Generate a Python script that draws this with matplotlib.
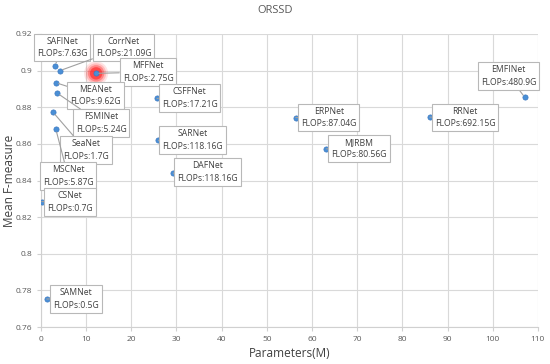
import matplotlib
matplotlib.use("Agg")
import matplotlib.pyplot as plt
import numpy as np

plt.rcParams['font.family'] = ['Open Sans', 'DejaVu Sans']

# Modelos: nome, parametros (M), F-measure, FLOPs
names = ["SAFINet", "CorrNet", "MFFNet", "MEANet", "FSMINet", "SeaNet", "MSCNet",
         "CSNet", "SAMNet", "CSFFNet", "SARNet", "DAFNet", "ERPNet", "MJRBM",
         "RRNet", "EMFINet"]
params = [3.1, 4.2, 12.2, 3.3, 3.6, 2.7, 3.3, 0.15, 1.3, 25.7, 26.0, 29.3,
          56.4, 63.2, 86.1, 107.1]
fmeasure = [0.9027, 0.9000, 0.8985, 0.8934, 0.8877, 0.8772, 0.8679, 0.8285,
            0.7753, 0.8848, 0.8619, 0.8440, 0.8744, 0.8573, 0.8746, 0.8854]
flops = ["7.63G", "21.09G", "2.75G", "9.62G", "5.24G", "1.7G", "5.87G", "0.7G",
         "0.5G", "17.21G", "118.16G", "118.16G", "87.04G", "80.56G", "692.15G",
         "480.9G"]
# posicao dos rotulos (centro da caixa)
label_x = [4.7, 18.3, 23.7, 12.1, 13.3, 9.9, 6.0, 6.4, 7.7, 32.9, 33.5, 36.9,
           63.7, 70.4, 93.9, 103.5]
label_y = [0.9126, 0.9126, 0.8992, 0.8864, 0.8713, 0.8566, 0.8424, 0.8284,
           0.7754, 0.8850, 0.8620, 0.8446, 0.8743, 0.8575, 0.8743, 0.8972]

fig = plt.figure(figsize=(5.5, 3.64), dpi=100)
ax = fig.add_axes([0.0745, 0.1016, 0.9035, 0.805])

# brilho vermelho no MFFNet
i = names.index("MFFNet")
for s, a in zip([300, 210, 140, 80], [0.12, 0.2, 0.35, 0.6]):
    ax.scatter(params[i], fmeasure[i], s=s, color="#ff2020", alpha=a,
               edgecolors="none", zorder=3)

ax.scatter(params, fmeasure, s=14, color="#4a8fd6", edgecolors="#3a78c0",
           linewidths=0.5, zorder=4)

for n, px, fy, fl, lx, ly in zip(names, params, fmeasure, flops, label_x, label_y):
    ax.annotate(f"{n}\nFLOPs:{fl}", xy=(px, fy), xytext=(lx, ly),
                ha="center", va="center", fontsize=6.2, color="#404040",
                linespacing=1.5,
                bbox=dict(boxstyle="square,pad=0.35", fc="white", ec="#b8b8b8", lw=0.8),
                arrowprops=dict(arrowstyle="-", color="#a0a0a0", lw=0.8,
                                shrinkA=0, shrinkB=2),
                zorder=5)

ax.set_xlim(0, 110)
ax.set_ylim(0.76, 0.92)
ax.set_xticks(np.arange(0, 111, 10))
yt = [0.76, 0.78, 0.8, 0.82, 0.84, 0.86, 0.88, 0.9, 0.92]
ax.set_yticks(yt)
ax.set_yticklabels([f"{v:g}" for v in yt])
ax.grid(True, color="#d9d9d9", lw=0.8)
ax.set_axisbelow(True)
for sp in ["top", "right"]:
    ax.spines[sp].set_visible(False)
for sp in ["left", "bottom"]:
    ax.spines[sp].set_color("#d0d0d0")
ax.tick_params(axis="both", labelsize=6, colors="#595959", length=3, width=0.8)
ax.tick_params(axis="both", color="#d0d0d0")

ax.set_xlabel("Parameters(M)", fontsize=8.5, color="#404040", labelpad=3)
ax.set_ylabel("Mean F-measure", fontsize=8.5, color="#404040")
ax.yaxis.set_label_coords(-0.05, 0.5)
fig.text(0.5, 0.97, "ORSSD", ha="center", va="center", fontsize=8, color="#595959")

fig.savefig("out.png", dpi=100)
